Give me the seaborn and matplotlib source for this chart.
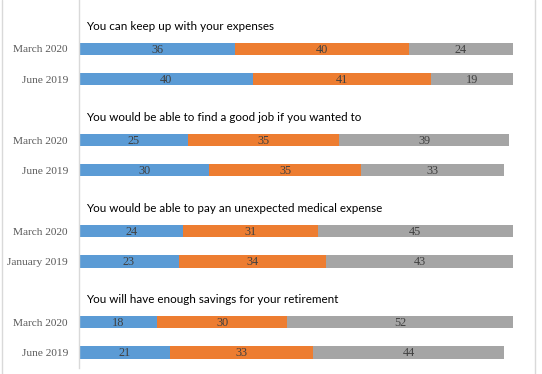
import numpy as np
import pandas as pd
import matplotlib
matplotlib.use('Agg')
import matplotlib.pyplot as plt
from matplotlib.lines import Line2D
import seaborn as sns

# survey data (percent)
titles = ['You can keep up with your expenses',
          'You would be able to find a good job if you wanted to',
          'You would be able to pay an unexpected medical expense',
          'You will have enough savings for your retirement']
periods = [['March 2020', 'June 2019'],
           ['March 2020', 'June 2019'],
           ['March 2020', 'January 2019'],
           ['March 2020', 'June 2019']]
first = [36, 40, 25, 30, 24, 23, 18, 21]
second = [40, 41, 35, 35, 31, 34, 30, 33]
third = [24, 19, 39, 33, 45, 43, 52, 44]

colors = ['#5B9BD5', '#ED7D31', '#A5A5A5']

sns.set_style('white')
plt.rcParams['font.family'] = ['DejaVu Sans']

# slot layout: title row then two bars per group
pos, labels = [], []
for g in range(len(titles)):
    for j, p in enumerate(periods[g]):
        pos.append(g * 3 + 1 + j)
        labels.append(p)

df = pd.DataFrame({'pos': pos, 'label': labels,
                   'a': first, 'b': second, 'c': third})
df['ab'] = df['a'] + df['b']
df['abc'] = df['ab'] + df['c']

fig = plt.figure(figsize=(5.42, 3.74), dpi=100)
ax = fig.add_axes([79 / 542, 6 / 374, 434 / 542, 368 / 374])

for col, c in [('abc', colors[2]), ('ab', colors[1]), ('a', colors[0])]:
    sns.barplot(data=df, x=col, y='pos', orient='h', native_scale=True,
                color=c, width=0.4, saturation=1, ax=ax, linewidth=0)

ax.set_xlim(0, 100)
ax.set_ylim(11.51, -0.614)
ax.set_xlabel('')
ax.set_ylabel('')
ax.set_xticks([])
ax.set_yticks(pos)
ax.set_yticklabels(labels, fontfamily='Liberation Serif', fontsize=8.2, color='#595959')
ax.tick_params(axis='y', length=0, pad=8)
for s in ['top', 'right', 'bottom']:
    ax.spines[s].set_visible(False)
ax.spines['left'].set_color('#D9D9D9')
ax.spines['left'].set_linewidth(1)

# segment labels
for _, r in df.iterrows():
    for start, val in [(0, r['a']), (r['a'], r['b']), (r['ab'], r['c'])]:
        ax.text(start + val / 2, r['pos'] + 0.03, f'{int(val)}', ha='center', va='center',
                fontfamily='Liberation Serif', fontsize=8.8, color='#404040')

# group titles
for g, t in enumerate(titles):
    ax.text(1.6, g * 3 + 0.26, t, ha='left', va='center',
            fontfamily='Lato', fontsize=8.4, color='black')

# chart border
fig.add_artist(Line2D([1.5 / 542, 1.5 / 542], [0, 1], color='#D9D9D9', lw=1))
fig.add_artist(Line2D([534.5 / 542, 534.5 / 542], [0, 1], color='#D9D9D9', lw=1))

fig.savefig('out.png', dpi=100)
